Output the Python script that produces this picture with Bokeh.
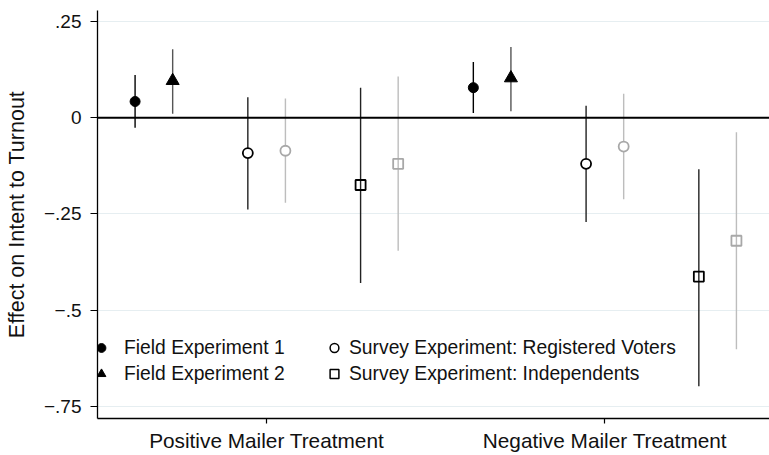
from bokeh.plotting import figure
from bokeh.models import Range1d, FixedTicker, Span, Legend, LegendItem, ColumnDataSource
from bokeh.embed import file_html
from bokeh.resources import INLINE

# ---- data ----
categories = ["Positive Mailer Treatment", "Negative Mailer Treatment"]

f1_est = [0.042, 0.078]
f1_lo = [-0.026, 0.012]
f1_hi = [0.111, 0.145]

f2_est = [0.096, 0.103]
f2_lo = [0.010, 0.017]
f2_hi = [0.178, 0.184]

rv_est = [-0.092, -0.120]
rv_lo = [-0.239, -0.271]
rv_hi = [0.053, 0.031]

rv2_est = [-0.086, -0.075]
rv2_lo = [-0.221, -0.212]
rv2_hi = [0.050, 0.062]

ind_est = [-0.175, -0.413]
ind_lo = [-0.430, -0.698]
ind_hi = [0.078, -0.134]

ind2_est = [-0.120, -0.320]
ind2_lo = [-0.346, -0.602]
ind2_hi = [0.107, -0.038]

y_ticks = [0.25, 0, -0.25, -0.5, -0.75]
y_tick_labels = [".25", "0", "\u2212.25", "\u2212.5", "\u2212.75"]

# ---- layout choices ----
FONT = "Liberation Sans"
group_base = [0, 9]
group_tick_offset = 4.5
NAN = float("nan")

p = figure(width=769, height=455, output_backend="svg", toolbar_location=None,
           x_range=Range1d(0, 17.88), y_range=Range1d(-0.782, 0.2786),
           min_border_left=97, min_border_right=0, min_border_top=10, min_border_bottom=37)
p.outline_line_color = None
p.background_fill_color = "white"

series = [
    dict(est=f1_est, lo=f1_lo, hi=f1_hi, slot=1, marker="circle", size=10,
         line="black", fill="black", bar="black", lw=1),
    dict(est=f2_est, lo=f2_lo, hi=f2_hi, slot=2, marker="triangle", size=13,
         line="black", fill="black", bar="#555555", lw=1),
    dict(est=rv_est, lo=rv_lo, hi=rv_hi, slot=4, marker="circle", size=10,
         line="black", fill="white", bar="#222222", lw=1.8),
    dict(est=rv2_est, lo=rv2_lo, hi=rv2_hi, slot=5, marker="circle", size=10,
         line="#a8a8a8", fill="white", bar="#bdbdbd", lw=1.8),
    dict(est=ind_est, lo=ind_lo, hi=ind_hi, slot=7, marker="square", size=10,
         line="black", fill=None, bar="#222222", lw=1.8),
    dict(est=ind2_est, lo=ind2_lo, hi=ind2_hi, slot=8, marker="square", size=10,
         line="#a8a8a8", fill=None, bar="#bdbdbd", lw=1.8),
]

# zero line
p.add_layout(Span(location=0, dimension="width", line_color="black", line_width=2))

for s in series:
    xs = [b + s["slot"] for b in group_base]
    src = ColumnDataSource(dict(x=xs, est=s["est"], lo=s["lo"], hi=s["hi"]))
    p.segment(x0="x", y0="lo", x1="x", y1="hi", source=src,
              line_color=s["bar"], line_width=1.4)
    p.scatter(x="x", y="est", source=src, marker=s["marker"], size=s["size"],
              line_color=s["line"], fill_color=s["fill"], line_width=s["lw"])

# legend proxies
lg_f1 = p.scatter(x=[NAN], y=[NAN], marker="circle", line_color="black", fill_color="black")
lg_f2 = p.scatter(x=[NAN], y=[NAN], marker="triangle", line_color="black", fill_color="black")
lg_rv = p.scatter(x=[NAN], y=[NAN], marker="circle", line_color="black", fill_color="white", line_width=1.5)
lg_ind = p.scatter(x=[NAN], y=[NAN], marker="square", line_color="black", fill_color=None, line_width=1.5)

common = dict(orientation="vertical", glyph_width=22, glyph_height=23, spacing=3,
              padding=0, margin=0, label_text_font=FONT, label_text_font_size="19.3px",
              label_text_color="#111111", background_fill_alpha=0, border_line_alpha=0)
leg1 = Legend(items=[LegendItem(label="Field Experiment 1", renderers=[lg_f1]),
                     LegendItem(label="Field Experiment 2", renderers=[lg_f2])],
              location=(-7, 33), label_standoff=12, **common)
leg2 = Legend(items=[LegendItem(label="Survey Experiment: Registered Voters", renderers=[lg_rv]),
                     LegendItem(label="Survey Experiment: Independents", renderers=[lg_ind])],
              location=(226, 33), label_standoff=4, **common)
p.add_layout(leg1)
p.add_layout(leg2)

# axes
tick_pos = [b + group_tick_offset for b in group_base]
p.xaxis.ticker = FixedTicker(ticks=tick_pos)
p.xaxis.major_label_overrides = {t: c for t, c in zip(tick_pos, categories)}
p.xaxis.minor_tick_line_color = None
p.xaxis.major_tick_out = 5
p.xaxis.major_tick_in = 0
p.xaxis.major_label_standoff = 5
p.xaxis.major_label_text_font = FONT
p.xaxis.major_label_text_font_size = "20.8px"
p.xaxis.major_label_text_color = "#111111"

p.yaxis.ticker = FixedTicker(ticks=y_ticks)
p.yaxis.major_label_overrides = {t: l for t, l in zip(y_ticks, y_tick_labels)}
p.yaxis.minor_tick_line_color = None
p.yaxis.major_tick_out = 7
p.yaxis.major_tick_in = 0
p.yaxis.major_label_standoff = 9
p.yaxis.major_label_text_font = FONT
p.yaxis.major_label_text_font_size = "19px"
p.yaxis.major_label_text_color = "#111111"
p.yaxis.axis_label = "Effect on Intent to Turnout"
p.yaxis.axis_label_text_font = FONT
p.yaxis.axis_label_text_font_size = "21.5px"
p.yaxis.axis_label_text_font_style = "normal"
p.yaxis.axis_label_text_color = "#111111"
p.yaxis.axis_label_standoff = 12

for ax in (p.xaxis, p.yaxis):
    ax.axis_line_color = "black"
    ax.axis_line_width = 1.3
    ax.major_tick_line_color = "black"
    ax.major_tick_line_width = 1.2

p.xgrid.visible = False
p.ygrid.ticker = FixedTicker(ticks=y_ticks)
p.ygrid.grid_line_color = "#e6eef1"
p.ygrid.grid_line_width = 1.2

open("out.html", "w").write(file_html(p, INLINE))
